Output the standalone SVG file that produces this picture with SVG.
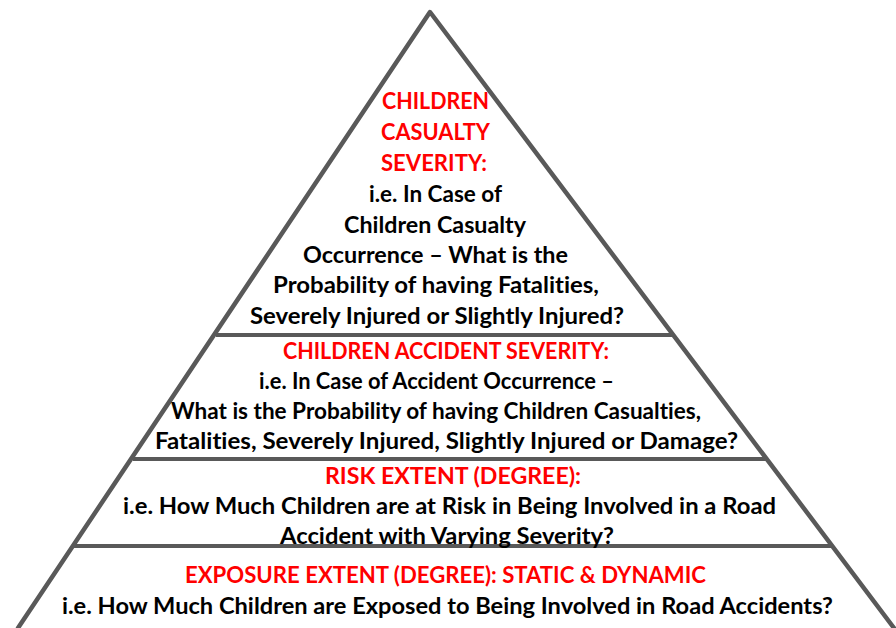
<svg xmlns="http://www.w3.org/2000/svg" width="896" height="628" viewBox="0 0 896 628">
<style>
.edge{stroke:#595959;stroke-width:4.5;fill:none;stroke-linecap:round;stroke-linejoin:round}
.div{stroke:#595959;stroke-width:4;fill:none}
text{font-family:Lato,"Open Sans",sans-serif;font-weight:bold;font-size:22px;text-anchor:middle;font-variant-ligatures:none;font-feature-settings:"liga" 0,"dlig" 0}
.r{fill:#ff0000}
.k{fill:#000000}
</style>
<rect width="896" height="628" fill="#ffffff"/>
<g id="connectors">
<polyline class="edge" points="18,628 430,12 894,628"/>
<line class="div" x1="216" y1="335" x2="672" y2="335"/>
<line class="div" x1="133" y1="459" x2="767" y2="459"/>
<line class="div" x1="72" y1="546" x2="832" y2="546"/>
</g>
<g id="tier1">
<text class="r" x="435.5" y="109" textLength="107" lengthAdjust="spacingAndGlyphs">CHILDREN</text>
<text class="r" x="435.5" y="140" textLength="109" lengthAdjust="spacingAndGlyphs">CASUALTY</text>
<text class="r" x="434" y="171" textLength="106" lengthAdjust="spacingAndGlyphs">SEVERITY:</text>
<text class="k" x="435.5" y="202" textLength="133" lengthAdjust="spacingAndGlyphs">i.e. In Case of</text>
<text class="k" x="435" y="233" textLength="182" lengthAdjust="spacingAndGlyphs">Children Casualty</text>
<text class="k" x="435.5" y="263" textLength="265" lengthAdjust="spacingAndGlyphs">Occurrence – What is the</text>
<text class="k" x="436" y="293" textLength="326" lengthAdjust="spacingAndGlyphs">Probability of having Fatalities,</text>
<text class="k" x="437" y="324" textLength="374" lengthAdjust="spacingAndGlyphs">Severely Injured or Slightly Injured?</text>
</g>
<g id="tier2">
<text class="r" x="446" y="359" textLength="326" lengthAdjust="spacingAndGlyphs">CHILDREN ACCIDENT SEVERITY:</text>
<text class="k" x="436.5" y="389" textLength="355" lengthAdjust="spacingAndGlyphs">i.e. In Case of Accident Occurrence –</text>
<text class="k" x="436" y="419" textLength="530" lengthAdjust="spacingAndGlyphs">What is the Probability of having Children Casualties,</text>
<text class="k" x="446.5" y="449" textLength="583" lengthAdjust="spacingAndGlyphs">Fatalities, Severely Injured, Slightly Injured or Damage?</text>
</g>
<g id="tier3">
<text class="r" x="453" y="484" textLength="256" lengthAdjust="spacingAndGlyphs">RISK EXTENT (DEGREE):</text>
<text class="k" x="449.5" y="514" textLength="653" lengthAdjust="spacingAndGlyphs">i.e. How Much Children are at Risk in Being Involved in a Road</text>
<text class="k" x="447" y="544" textLength="334" lengthAdjust="spacingAndGlyphs">Accident with Varying Severity?</text>
</g>
<g id="tier4">
<text class="r" x="445.5" y="583" textLength="521" lengthAdjust="spacingAndGlyphs">EXPOSURE EXTENT (DEGREE): STATIC &amp; DYNAMIC</text>
<text class="k" x="447.5" y="614" textLength="771" lengthAdjust="spacingAndGlyphs">i.e. How Much Children are Exposed to Being Involved in Road Accidents?</text>
</g>
</svg>
